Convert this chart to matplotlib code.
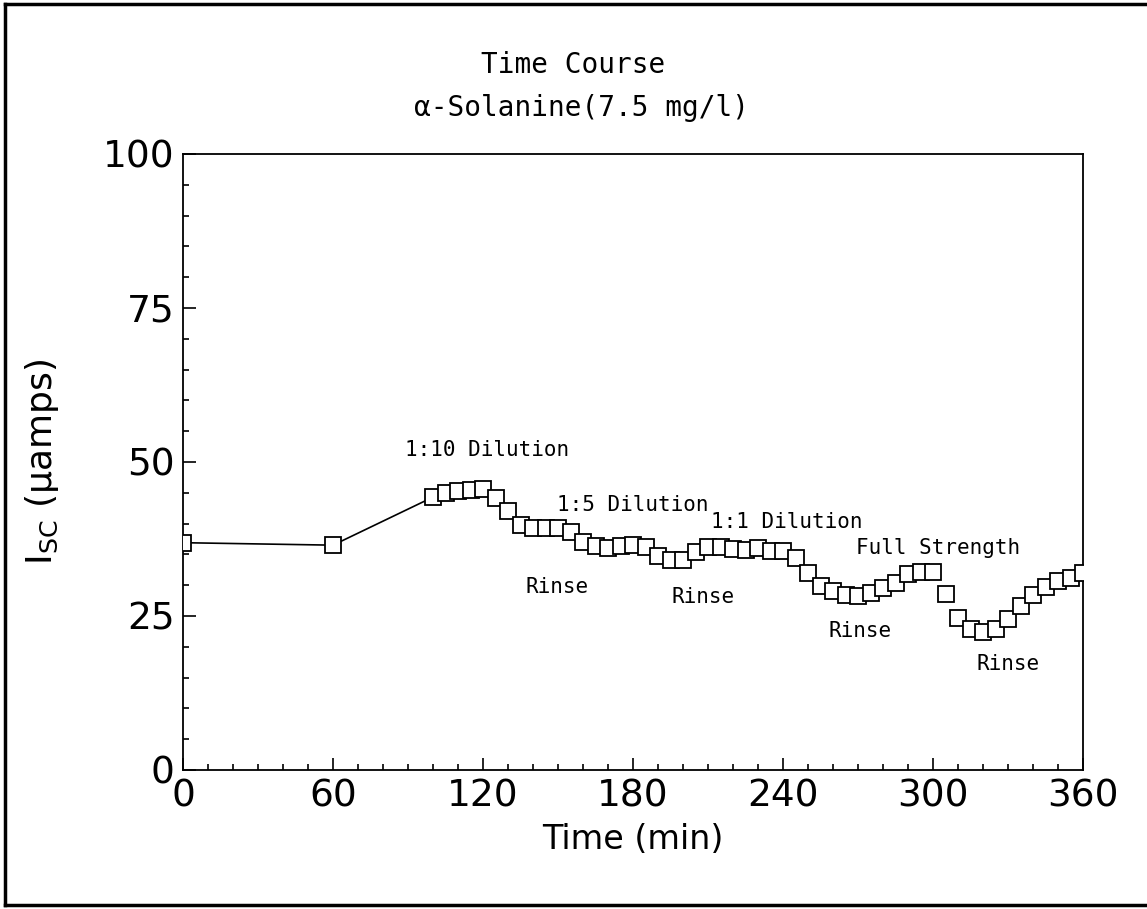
import numpy as np
import matplotlib
matplotlib.use("Agg")
import matplotlib.pyplot as plt
from matplotlib.lines import Line2D
from matplotlib.ticker import MultipleLocator

# data
times = [0, 60] + list(range(100, 365, 5))
isc = [36.9, 36.5,
       44.3, 45.0, 45.3, 45.5, 45.6, 44.1, 42.1, 39.8, 39.3, 39.3,
       39.3, 38.6, 37.0, 36.4, 36.0, 36.4, 36.6, 36.2, 34.8, 34.1,
       34.1, 35.4, 36.2, 36.2, 35.9, 35.7, 36.0, 35.6, 35.6, 34.4,
       32.0, 29.9, 29.0, 28.4, 28.2, 28.7, 29.6, 30.3, 31.8, 32.1,
       32.1, 28.6, 24.7, 22.9, 22.4, 22.9, 24.5, 26.6, 28.4, 29.7,
       30.7, 31.2, 32.0]

labels = ["1:10 Dilution", "1:5 Dilution", "1:1 Dilution", "Full Strength",
          "Rinse", "Rinse", "Rinse", "Rinse"]
label_t = [121.6, 180, 241.6, 302, 149.6, 208, 270.8, 330]
label_v = [51.9, 43.0, 40.3, 36.0, 29.7, 28.1, 22.6, 17.2]

plt.rcParams['font.family'] = ['DejaVu Sans']
mono = 'DejaVu Sans Mono'

fig = plt.figure(figsize=(11.47, 9.09), dpi=100)
ax = fig.add_axes([183 / 1147, 1 - 770 / 909, 900 / 1147, 616 / 909])

# only the sparse first points are joined by a line
ax.plot(times[:3], isc[:3], color='black', lw=1.2, zorder=2)
ax.plot(times, isc, ls='none', marker='s', ms=11, mfc='white', mec='black',
        mew=1.3, zorder=3)

for txt, t, v in zip(labels, label_t, label_v):
    ax.text(t, v, txt, ha='center', va='center', fontsize=15, family=mono)

ax.set_xlim(0, 360)
ax.set_ylim(0, 100)
ax.xaxis.set_major_locator(MultipleLocator(60))
ax.xaxis.set_minor_locator(MultipleLocator(10))
ax.yaxis.set_major_locator(MultipleLocator(25))
ax.yaxis.set_minor_locator(MultipleLocator(5))
ax.tick_params(which='both', direction='in', top=False, right=False,
               labelsize=27, width=1.2)
ax.tick_params(which='major', length=9, pad=6)
ax.tick_params(which='minor', length=4.5)
for s in ax.spines.values():
    s.set_linewidth(1.3)

ax.set_xlabel("Time (min)", fontsize=24, labelpad=6)
ax.set_ylabel(r"I$_{\mathrm{SC}}$ (μamps)", fontsize=26, labelpad=30)

fig.text(0.5, 1 - 65 / 909, "Time Course", ha='center', va='center',
         fontsize=20, family=mono)
fig.text(0.507, 1 - 108 / 909, "α-Solanine(7.5 mg/l)", ha='center', va='center',
         fontsize=20, family=mono)

# page border from the scan
for xs, ys in [([5, 5], [4, 905]), ([5, 1147], [4, 4]), ([5, 1147], [905, 905])]:
    fig.add_artist(Line2D([x / 1147 for x in xs], [1 - y / 909 for y in ys],
                          color='black', lw=2.5, transform=fig.transFigure))

fig.savefig("out.png", dpi=100)
